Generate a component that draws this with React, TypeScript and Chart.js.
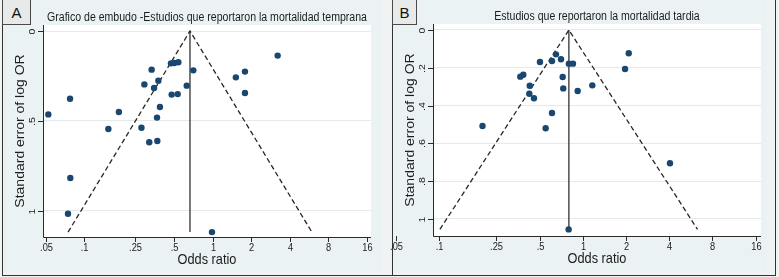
import React, { useEffect, useRef } from 'react';
import { Chart, registerables } from 'chart.js';

Chart.register(...registerables);

// ---------- data ----------
const xTickValues = [0.05, 0.1, 0.25, 0.5, 1, 2, 4, 8, 16];
const xTickLabels = ['.05', '.1', '.25', '.5', '1', '2', '4', '8', '16'];

// Panel A: early mortality
const aTitle = 'Grafico de embudo -Estudios que reportaron la mortalidad temprana';
const aOddsRatio = [3.22, 0.474, 0.503, 0.541, 0.335, 0.708, 1.79, 1.52, 0.378, 0.294, 0.35, 0.629, 1.79, 0.48, 0.535, 0.0774, 0.389, 0.186, 0.0524, 0.369, 0.154, 0.279, 0.321, 0.371, 0.0778, 0.0746, 0.99];
const aStdErr = [0.137, 0.18, 0.178, 0.174, 0.215, 0.219, 0.226, 0.258, 0.277, 0.297, 0.317, 0.304, 0.345, 0.354, 0.351, 0.377, 0.423, 0.451, 0.464, 0.482, 0.545, 0.538, 0.619, 0.612, 0.818, 1.017, 1.119];
const aFunnelOR = [0.0747, 0.667, 5.95];
const aFunnelSE = [1.119, 0, 1.119];
const aPooledOR = [0.667, 0.667];
const aPooledSE = [0, 1.119];
const aYTicks = [0, 0.5, 1];
const aYTickLabels = ['0', '.5', '1'];

// Panel B: late mortality
const bTitle = 'Estudios que reportaron la mortalidad tardia';
const bOddsRatio = [2.09, 1.97, 0.65, 0.61, 0.705, 0.503, 0.8, 0.854, 0.385, 0.367, 0.724, 1.165, 0.427, 0.731, 0.921, 0.424, 0.457, 0.61, 0.2, 0.551, 4.05, 0.797];
const bStdErr = [0.123, 0.206, 0.129, 0.164, 0.155, 0.169, 0.178, 0.178, 0.2365, 0.247, 0.249, 0.293, 0.295, 0.309, 0.323, 0.337, 0.361, 0.439, 0.508, 0.52, 0.705, 1.055];
const bFunnelOR = [0.101, 0.8, 6.3];
const bFunnelSE = [1.055, 0, 1.055];
const bPooledOR = [0.8, 0.8];
const bPooledSE = [0, 1.055];
const bYTicks = [0, 0.2, 0.4, 0.6, 0.8, 1];
const bYTickLabels = ['0', '.2', '.4', '.6', '.8', '1'];

const xTitle = 'Odds ratio';
const yTitle = 'Standard error of log OR';

// ---------- drawing helpers ----------
const FONT = '"Liberation Sans", Arial, Helvetica, sans-serif';
const SQUEEZE = 0.88;

function drawText(ctx: CanvasRenderingContext2D, s: string, x: number, y: number, size: number, rot = 0, align: CanvasTextAlign = 'center') {
  ctx.save();
  ctx.translate(x, y);
  ctx.scale(SQUEEZE, 1);
  if (rot) ctx.rotate(rot);
  ctx.font = `${size}px ${FONT}`;
  ctx.fillStyle = '#1c1c1c';
  ctx.textAlign = align;
  ctx.textBaseline = 'middle';
  ctx.fillText(s, 0, 0);
  ctx.restore();
}

type Spec = {
  W: number; H: number;
  plot: { left: number; top: number; right: number; bottom: number };
  xMin: number; xMax: number; yMin: number; yMax: number;
  title: string; titleY: number;
  or: number[]; se: number[];
  fOR: number[]; fSE: number[];
  pOR: number[]; pSE: number[];
  yTicks: number[]; yLabels: string[];
};

function makePlugin(spec: Spec) {
  return {
    id: 'stataFrame',
    beforeDraw(chart: any) {
      const { ctx, chartArea: a } = chart;
      ctx.save();
      ctx.fillStyle = '#ffffff';
      ctx.fillRect(a.left, a.top, a.right - a.left, a.bottom - a.top);
      ctx.restore();
    },
    afterDraw(chart: any) {
      const { ctx, chartArea: a } = chart;
      const xs = chart.scales.x;
      const ys = chart.scales.y;
      ctx.save();
      ctx.strokeStyle = '#2a2a2a';
      ctx.lineWidth = 1;
      // axis lines
      ctx.beginPath();
      ctx.moveTo(a.left + 0.5, a.top);
      ctx.lineTo(a.left + 0.5, a.bottom + 0.5);
      ctx.lineTo(a.right, a.bottom + 0.5);
      ctx.stroke();
      // x ticks
      xTickValues.forEach((v, i) => {
        const px = Math.round(xs.getPixelForValue(v)) + 0.5;
        ctx.beginPath();
        ctx.moveTo(px, a.bottom);
        ctx.lineTo(px, a.bottom + 5);
        ctx.stroke();
        drawText(ctx, xTickLabels[i], px, a.bottom + 11.5, 10.5);
      });
      // y ticks
      spec.yTicks.forEach((v, i) => {
        const py = Math.round(ys.getPixelForValue(v)) + 0.5;
        ctx.beginPath();
        ctx.moveTo(a.left - 5, py);
        ctx.lineTo(a.left, py);
        ctx.stroke();
        drawText(ctx, spec.yLabels[i], a.left - 11, py, 10.5, -Math.PI / 2);
      });
      ctx.restore();
      const cx = (a.left + a.right) / 2;
      drawText(ctx, xTitle, cx, a.bottom + 22.5, 14.5);
      drawText(ctx, yTitle, a.left - 22.5, (a.top + a.bottom) / 2, 14, -Math.PI / 2);
      drawText(ctx, spec.title, cx, spec.titleY, 12);
    },
  };
}

function buildConfig(spec: Spec): any {
  const pts = spec.or.map((x, i) => ({ x, y: spec.se[i] }));
  const funnel = spec.fOR.map((x, i) => ({ x, y: spec.fSE[i] }));
  const pooled = spec.pOR.map((x, i) => ({ x, y: spec.pSE[i] }));
  return {
    type: 'scatter',
    data: {
      datasets: [
        {
          data: pts,
          pointRadius: 3.2,
          pointBorderWidth: 0,
          backgroundColor: '#1a476f',
          borderColor: '#1a476f',
          showLine: false,
        },
        {
          data: funnel,
          showLine: true,
          pointRadius: 0,
          borderColor: '#262626',
          borderWidth: 1.3,
          borderDash: [5, 3],
          fill: false,
        },
        {
          data: pooled,
          showLine: true,
          pointRadius: 0,
          borderColor: '#222222',
          borderWidth: 1.2,
          fill: false,
        },
      ],
    },
    options: {
      responsive: false,
      animation: false,
      events: [],
      layout: {
        autoPadding: false,
        padding: {
          left: spec.plot.left,
          top: spec.plot.top,
          right: spec.W - spec.plot.right,
          bottom: spec.H - spec.plot.bottom,
        },
      },
      plugins: { legend: { display: false }, tooltip: { enabled: false }, title: { display: false } },
      scales: {
        x: {
          type: 'logarithmic',
          min: spec.xMin,
          max: spec.xMax,
          grid: { display: false },
          border: { display: false },
          ticks: { display: false },
          afterFit: (s: any) => { s.height = 0; },
        },
        y: {
          type: 'linear',
          reverse: true,
          min: spec.yMin,
          max: spec.yMax,
          afterBuildTicks: (s: any) => { s.ticks = spec.yTicks.map((v) => ({ value: v })); },
          grid: { display: true, color: '#e3eaec', lineWidth: 1, drawTicks: false },
          border: { display: false },
          ticks: { display: false },
          afterFit: (s: any) => { s.width = 0; },
        },
      },
    },
    plugins: [makePlugin(spec)],
  };
}

const specA: Spec = {
  W: 392, H: 277,
  plot: { left: 43, top: 25, right: 371, bottom: 237 },
  xMin: 0.04763, xMax: 17.21, yMin: -0.0334, yMax: 1.1463,
  title: aTitle, titleY: 17.5,
  or: aOddsRatio, se: aStdErr, fOR: aFunnelOR, fSE: aFunnelSE, pOR: aPooledOR, pSE: aPooledSE,
  yTicks: aYTicks, yLabels: aYTickLabels,
};

const specB: Spec = {
  W: 395, H: 277,
  plot: { left: 49, top: 24, right: 377, bottom: 236 },
  xMin: 0.0904, xMax: 17.45, yMin: -0.0317, yMax: 1.09,
  title: bTitle, titleY: 16.5,
  or: bOddsRatio, se: bStdErr, fOR: bFunnelOR, fSE: bFunnelSE, pOR: bPooledOR, pSE: bPooledSE,
  yTicks: bYTicks, yLabels: bYTickLabels,
};

function FunnelCanvas({ left, spec }: { left: number; spec: Spec }) {
  const ref = useRef<HTMLCanvasElement>(null);
  useEffect(() => {
    const chart = new Chart(ref.current as HTMLCanvasElement, buildConfig(spec));
    return () => chart.destroy();
  }, []);
  return (
    <canvas
      ref={ref}
      width={spec.W}
      height={spec.H}
      style={{ position: 'absolute', left, top: 0, width: spec.W, height: spec.H, display: 'block' }}
    />
  );
}

export default function App() {
  useEffect(() => {
    document.body.style.margin = '0';
  }, []);
  const boxStyle = (left: number, width: number): React.CSSProperties => ({
    position: 'absolute', left, top: -1, width, height: 26, boxSizing: 'border-box',
    border: '1px solid #4a4a4a', background: '#e8eaea', color: '#111',
    font: `15px ${FONT}`, display: 'flex', alignItems: 'center', justifyContent: 'center',
  });
  return (
    <div style={{ position: 'relative', width: 779, height: 277, background: '#f2f4f4', overflow: 'hidden' }}>
      <div style={{ position: 'absolute', left: 2, top: -1, width: 391, height: 277, boxSizing: 'border-box', border: '1px solid #333', background: '#eff3f3' }} />
      <div style={{ position: 'absolute', left: 3, top: 0, width: 379, height: 272, background: '#eaf2f3' }} />
      <div style={{ position: 'absolute', left: 392, top: -1, width: 384, height: 277, boxSizing: 'border-box', border: '1px solid #333', background: '#eff3f3' }} />
      <div style={{ position: 'absolute', left: 393, top: 0, width: 374, height: 272, background: '#eaf2f3' }} />
      <FunnelCanvas left={0} spec={specA} />
      <FunnelCanvas left={384} spec={specB} />
      <div style={boxStyle(2, 29)}>A</div>
      <div style={boxStyle(392, 25)}>B</div>
    </div>
  );
}
